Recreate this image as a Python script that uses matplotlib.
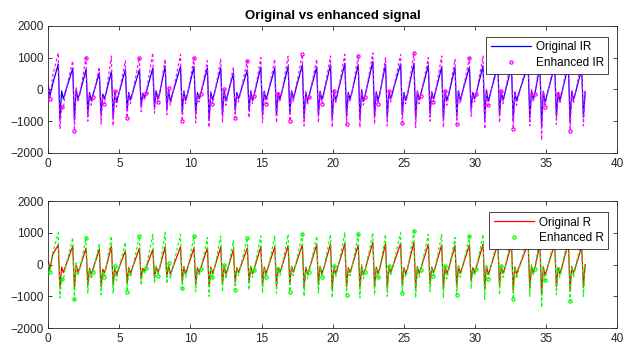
import matplotlib.pyplot as plt

plt.rcParams['font.family'] = ['Liberation Sans', 'DejaVu Sans']

# beat peak times (s)
peak_t = [0.70, 1.72, 2.66, 3.59, 4.44, 5.42, 6.41, 7.35, 8.22, 9.30,
          10.25, 11.19, 12.13, 13.02, 14.00, 14.95, 15.93, 16.87, 17.87, 18.88,
          19.85, 20.86, 21.80, 22.83, 23.72, 24.78, 25.72, 26.73, 27.67, 28.61,
          29.62, 30.58, 31.62, 32.58, 33.75, 34.58, 35.62, 36.58, 37.52]
# position of trough / rebound / dip / bump after each peak
shape_dt = [0.0, 0.12, 0.24, 0.36, 0.48]
start_t = [0.0, 0.12, 0.30]

# IR channel
ir_start = [100, -200, 150]
ir_peak = [800, 660, 630, 520, 560, 620, 620, 670, 740, 720, 720, 670, 670, 510, 610, 700, 670, 720, 770, 700,
           770, 820, 770, 880, 780, 800, 820, 750, 700, 680, 700, 740, 760, 720, 760, 720, 740, 760, 640]
ir_trough = [-950, -970, -780, -810, -890, -650, -520, -560, -620, -710, -780, -970, -810, -650, -650, -810, -810, -760, -920, -800,
             -950, -850, -940, -860, -900, -800, -950, -760, -930, -850, -620, -950, -800, -980, -900, -1150, -850, -1020, -880]
ir_rebound = [-50, 0, -100, -150, -60, -100, -120, -50, 0, -50, -100, -80, -20, -100, -50, -60, -100, -40, -80, -60,
              -50, -100, -30, -80, -60, -100, -50, -80, -60, -40, -100, -20, -60, -80, -40, -60, -100, -50, -70]
ir_dip = [-300, -280, -350, -300, -400, -330, -250, -300, -380, -350, -300, -330, -370, -300, -350, -330, -300, -280, -370,
          -330, -350, -300, -380, -330, -300, -350, -330, -300, -360, -340, -300, -380, -340, -360, -300, -400, -350, -320]
ir_bump = [-120, -150, -180, -100, -200, -150, -100, -130, -200, -160, -120, -150, -180, -120, -170, -150, -120, -100, -180,
           -150, -160, -120, -190, -150, -120, -160, -150, -120, -170, -150, -120, -190, -150, -170, -120, -200, -160, -140]

en_ir_start = [0, -300, 400]
en_ir_peak = [1150, 900, 1000, 700, 1050, 900, 1000, 1150, 950, 1100, 1000, 900, 950, 700, 900, 1000, 950, 1050, 1100, 950,
              1050, 1100, 1050, 1150, 1000, 1100, 1150, 1000, 1050, 950, 1000, 1050, 1000, 1050, 1000, 1000, 950, 1050, 900]
en_ir_trough = [-1250, -1300, -1000, -1100, -1150, -900, -700, -750, -800, -1000, -1050, -1200, -1050, -900, -900, -1050, -1050,
                -1000, -1150, -1050, -1200, -1100, -1200, -1100, -1150, -1050, -1200, -1000, -1200, -1100, -850, -1250, -1050,
                -1250, -1150, -1600, -1100, -1300, -1150]
en_ir_rebound = [-550, 50, -150, -200, -50, -150, -150, -50, 50, -100, -150, -100, 0, -150, -50, -100, -150, -50, -100, -50,
                 -50, -150, 0, -100, -50, -150, -50, -100, -50, 0, -150, 0, -50, -100, 0, -50, -150, -50, -100]
en_ir_dip = [-600, -400, -500, -450, -550, -450, -350, -400, -500, -450, -400, -450, -500, -400, -450, -450, -400, -400, -500,
             -450, -450, -400, -500, -450, -400, -450, -450, -400, -500, -450, -400, -500, -450, -500, -400, -550, -450, -450]
en_ir_bump = [-150, -200, -250, -100, -250, -200, -100, -150, -250, -200, -150, -200, -250, -150, -200, -200, -150, -100, -250,
              -200, -200, -150, -250, -200, -150, -200, -200, -150, -250, -200, -150, -250, -200, -250, -150, -250, -200, -150]

# R channel
r_start = [100, -150, 300]
r_peak = [620, 580, 520, 480, 580, 430, 520, 470, 560, 560, 530, 520, 550, 470, 520, 560, 560, 600, 620, 620,
          640, 660, 620, 700, 650, 660, 700, 640, 620, 600, 620, 640, 650, 640, 660, 640, 660, 680, 560]
r_trough = [-750, -760, -650, -700, -650, -600, -450, -420, -400, -520, -640, -700, -620, -550, -560, -650, -660, -620, -740, -620,
            -780, -700, -760, -700, -750, -650, -780, -620, -760, -700, -520, -780, -660, -800, -740, -950, -700, -830, -720]
r_rebound = [-80, -20, -120, -150, -80, -100, -120, -60, -20, -60, -100, -80, -40, -100, -60, -80, -100, -50, -80, -60,
             -60, -100, -40, -80, -60, -100, -60, -80, -60, -50, -100, -30, -60, -80, -50, -70, -100, -60, 0]
r_dip = [-250, -230, -300, -260, -330, -280, -200, -250, -300, -290, -250, -280, -300, -250, -290, -280, -250, -240, -300,
         -280, -290, -250, -310, -280, -250, -290, -280, -250, -300, -280, -250, -310, -280, -300, -250, -330, -290, -270]
r_bump = [-100, -130, -150, -80, -170, -130, -80, -110, -170, -130, -100, -130, -150, -100, -140, -130, -100, -80, -150,
          -130, -130, -100, -160, -130, -100, -130, -130, -100, -140, -130, -100, -160, -130, -140, -100, -170, -130, -120]

en_r_start = [0, -250, 350]
en_r_peak = [1000, 850, 850, 650, 900, 700, 900, 950, 1000, 950, 900, 850, 900, 750, 850, 900, 900, 950, 950, 900,
             950, 1000, 950, 1000, 950, 1000, 1050, 950, 950, 850, 900, 950, 900, 950, 900, 900, 850, 950, 800]
en_r_trough = [-1050, -1100, -900, -950, -900, -850, -650, -600, -600, -750, -850, -1000, -850, -800, -800, -900, -900, -850,
               -1000, -900, -1050, -950, -1050, -950, -1000, -900, -1050, -850, -1050, -950, -750, -1100, -950, -1100, -1000,
               -1350, -950, -1150, -1000]
en_r_rebound = [-450, 50, -150, -200, -50, -150, -150, -50, 50, -100, -150, -100, 0, -150, -50, -100, -150, -50, -100, -50,
                -50, -150, 0, -100, -50, -150, -50, -100, -50, 0, -150, 0, -50, -100, 0, -50, -150, -50, -50]
en_r_dip = [-500, -350, -450, -400, -500, -400, -300, -350, -450, -400, -350, -400, -450, -350, -400, -400, -350, -350, -450,
            -400, -400, -350, -450, -400, -350, -400, -400, -350, -450, -400, -350, -450, -400, -450, -350, -500, -400, -400]
en_r_bump = [-130, -180, -220, -100, -220, -180, -100, -130, -220, -180, -130, -180, -220, -130, -180, -180, -130, -100, -220,
             -180, -180, -130, -220, -180, -130, -180, -180, -130, -220, -180, -130, -220, -180, -220, -130, -220, -180, -130]


def build_trace(start, peak, trough, rebound, dip, bump):
    t = list(start_t)
    v = list(start)
    for i, p in enumerate(peak_t):
        vals = [peak[i], trough[i], rebound[i]]
        if i < len(dip):
            vals += [dip[i], bump[i]]
        for dt, val in zip(shape_dt, vals):
            t.append(p + dt)
            v.append(val)
    return t, v


def draw_panel(ax, orig, enh, line_color, mark_color, labels):
    t, v = build_trace(*orig)
    te, ve = build_trace(*enh)
    ax.plot(t, v, color=line_color, lw=0.9, label=labels[0], zorder=2)
    ax.plot(te, ve, color=mark_color, lw=0.85, ls=(0, (2.5, 2)), zorder=3)
    ax.plot(te[1::4], ve[1::4], 'o', color=mark_color, ms=2.3, mew=0.9, mfc='none',
            label=labels[1], zorder=4)
    ax.set_xlim(0, 40)
    ax.set_ylim(-2000, 2000)
    ax.set_xticks(range(0, 41, 5))
    ax.set_yticks([-2000, -1000, 0, 1000, 2000])
    ax.tick_params(direction='in', top=True, right=True, labelsize=8.5,
                   colors='#262626', length=3, width=0.6)
    for s in ax.spines.values():
        s.set_color('#262626')
        s.set_linewidth(0.6)
    leg = ax.legend(loc='upper right', bbox_to_anchor=(0.985, 0.915), fontsize=8.5,
                    handlelength=3.4, borderaxespad=0, fancybox=False, framealpha=1,
                    edgecolor='#262626', borderpad=0.4, labelspacing=0.3, handletextpad=0.4)
    leg.get_frame().set_linewidth(0.6)


fig = plt.figure(figsize=(6.27, 3.49), dpi=100)
ax1 = fig.add_axes([0.077, 0.562, 0.907, 0.364])
ax2 = fig.add_axes([0.077, 0.060, 0.907, 0.364])

draw_panel(ax1, (ir_start, ir_peak, ir_trough, ir_rebound, ir_dip, ir_bump),
           (en_ir_start, en_ir_peak, en_ir_trough, en_ir_rebound, en_ir_dip, en_ir_bump),
           '#0000ff', '#ff00ff', ['Original IR', 'Enhanced IR'])
draw_panel(ax2, (r_start, r_peak, r_trough, r_rebound, r_dip, r_bump),
           (en_r_start, en_r_peak, en_r_trough, en_r_rebound, en_r_dip, en_r_bump),
           '#ff0000', '#00ff00', ['Original R', 'Enhanced R'])
ax1.set_title('Original vs enhanced signal', fontsize=9.5, fontweight='bold', pad=5)

fig.savefig('out.png', dpi=100)
